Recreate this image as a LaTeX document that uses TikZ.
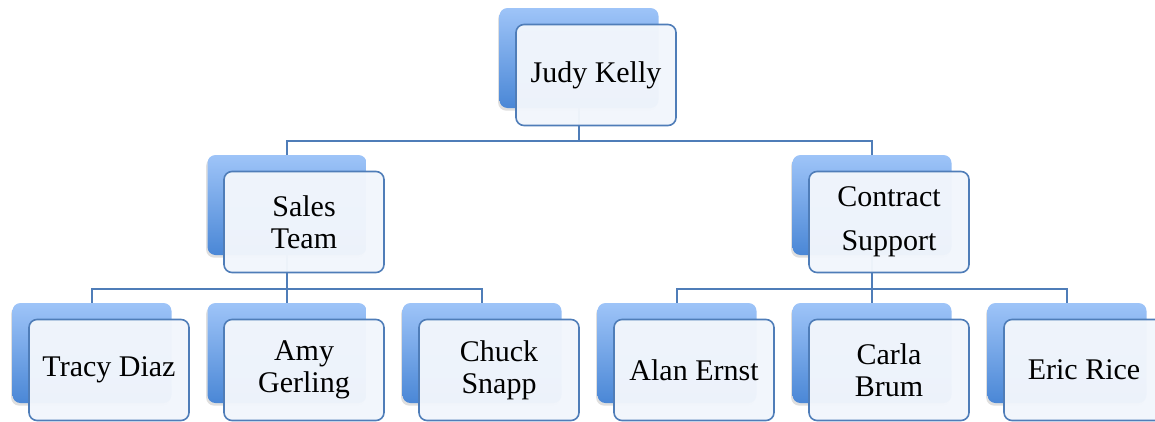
\documentclass[tikz,border=0pt]{standalone}
\usepackage{fontspec}
\setmainfont{Liberation Serif}
\usetikzlibrary{shapes,arrows,shadows,calc,backgrounds}
\definecolor{boxtop}{HTML}{9EC4F8}
\definecolor{boxbot}{HTML}{4A87D6}
\definecolor{frontfill}{HTML}{F2F6FC}
\definecolor{edgeblue}{HTML}{4F7DB8}
\tikzstyle{back}=[rounded corners=6pt,draw=none,inner sep=0pt,minimum width=119.25pt,minimum height=75pt,top color=boxtop,bottom color=boxbot,drop shadow={shadow xshift=-1pt,shadow yshift=-2pt,opacity=0.25}]
\tikzstyle{front}=[rounded corners=6pt,line width=1.2pt,draw=edgeblue,fill=frontfill,fill opacity=0.97,text opacity=1,inner sep=0pt,minimum width=120pt,minimum height=75.75pt,align=center,font=\fontsize{22.5}{24}\selectfont]
\tikzstyle{link}=[draw=edgeblue,line width=1.3pt]

\begin{document}
\begin{tikzpicture}[x=0.75pt,y=-0.75pt]
    \useasboundingbox (0,0) rectangle (1155,421);
     \node [back] (judyb) at (579,58) {};
     \node [front] (judy) at ($(judyb)+(17,17)$) {Judy Kelly};
     \node [back] (salesb) at (287,205) {};
     \node [front] (sales) at ($(salesb)+(17,17)$) {Sales\\Team};
     \node [back] (contractb) at (872,205) {};
     \node [front] (contract) at ($(contractb)+(17,17)$) {Contract\\[9pt]Support};
     \node [back] (tracyb) at (92,353) {};
      \node [back, right of=tracyb, node distance=146.25pt] (amyb) {};
      \node [back, right of=amyb, node distance=146.25pt] (chuckb) {};
      \node [back, right of=chuckb, node distance=146.25pt] (alanb) {};
      \node [back, right of=alanb, node distance=146.25pt] (carlab) {};
      \node [back, right of=carlab, node distance=146.25pt] (ericb) {};
     \node [front] (tracy) at ($(tracyb)+(17,17)$) {Tracy Diaz};
     \node [front] (amy) at ($(amyb)+(17,17)$) {Amy\\Gerling};
     \node [front] (chuck) at ($(chuckb)+(17,17)$) {Chuck\\Snapp};
     \node [front] (alan) at ($(alanb)+(17,17)$) {Alan Ernst};
     \node [front] (carla) at ($(carlab)+(17,17)$) {Carla\\Brum};
     \node [front] (eric) at ($(ericb)+(17,17)$) {Eric Rice};
    \begin{pgfonlayer}{background}
     \draw [link] (judyb.center) -- ++(0,83) coordinate (bus0) -| (salesb.center);
     \draw [link] (bus0) -| (contractb.center);
     \draw [link] (salesb.center) -- ++(0,84) coordinate (bus1) -| (tracyb.center);
     \draw [link] (bus1) -- (amyb.center);
     \draw [link] (bus1) -| (chuckb.center);
     \draw [link] (contractb.center) -- ++(0,84) coordinate (bus2) -| (alanb.center);
     \draw [link] (bus2) -- (carlab.center);
     \draw [link] (bus2) -| (ericb.center);
    \end{pgfonlayer}
    \end{tikzpicture}
\end{document}
